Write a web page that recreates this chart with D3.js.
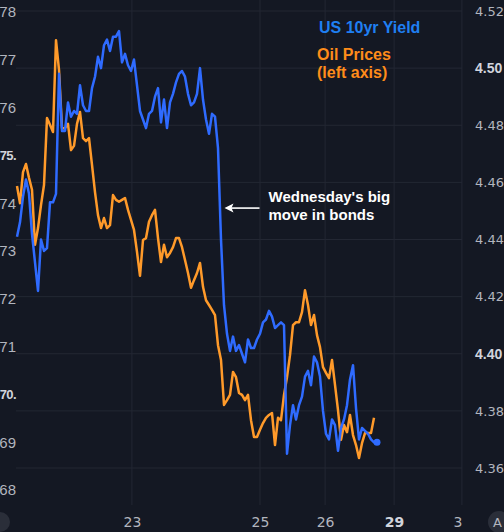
<!DOCTYPE html>
<html>
<head>
<meta charset="utf-8">
<script src="https://cdn.jsdelivr.net/npm/d3@7"></script>
<style>
  html, body { margin: 0; padding: 0; background: #141823; overflow: hidden; }
  svg { display: block; }
</style>
</head>
<body>
<svg id="chart"></svg>
<script>
const svgWidth = 504;
const svgHeight = 532;

// one value per bar, same bar clock for both series
const yieldValues = [
  4.441, 4.446, 4.455, 4.461, 4.456, 4.442, 4.432, 4.422, 4.440, 4.436,
  4.437, 4.453, 4.453, 4.456, 4.498, 4.478, 4.478, 4.488, 4.483, 4.485,
  4.484, 4.494, 4.487, 4.485, 4.485, 4.493, 4.497, 4.504, 4.500, 4.508,
  4.510, 4.506, 4.511, 4.511, 4.513, 4.502, 4.505, 4.501, 4.499, 4.503,
  4.494, 4.485, 4.482, 4.479, 4.484, 4.485, 4.490, 4.493, 4.481, 4.489,
  4.479, 4.488, 4.491, 4.495, 4.498, 4.499, 4.497, 4.491, 4.487, 4.488,
  4.491, 4.500, 4.489, 4.482, 4.477, 4.484, 4.483, 4.472, 4.440, 4.417,
  4.407, 4.401, 4.406, 4.401, 4.403, 4.400, 4.397, 4.405, 4.402, 4.402,
  4.405, 4.407, 4.411, 4.412, 4.415, 4.413, 4.409, 4.410, 4.411, 4.410,
  4.365, 4.375, 4.382, 4.377, 4.382, 4.385, 4.392, 4.394, 4.389, 4.399,
  4.397, 4.392, 4.380, 4.372, 4.370, 4.377, 4.375, 4.366, 4.374, 4.377,
  4.382, 4.391, 4.396, 4.381, 4.370, 4.374, 4.373, 4.372, 4.370, 4.369,
  4.369
];

const oilValues = [
  74.36, 74.00, 74.65, 74.82, 74.53, 74.28, 73.13, 73.48, 73.96, 74.38,
  75.78, 75.64, 75.49, 77.41, 76.79, 75.57, 75.57, 75.66, 75.11, 75.20,
  75.66, 75.91, 75.36, 75.30, 75.36, 74.80, 74.23, 73.75, 73.48, 73.69,
  73.48, 73.54, 74.17, 74.07, 74.03, 74.07, 74.11, 73.86, 73.65, 73.44,
  72.98, 72.48, 73.23, 73.27, 73.61, 73.75, 73.86, 73.27, 72.77, 73.13,
  72.87, 72.96, 73.08, 73.27, 73.27, 73.08, 72.81, 72.54, 72.23, 72.39,
  72.54, 72.75, 72.25, 71.97, 71.87, 71.77, 71.66, 71.03, 70.72, 69.78,
  69.88, 69.99, 70.47, 70.36, 70.03, 69.99, 69.88, 69.99, 69.46, 69.11,
  69.11, 69.26, 69.40, 69.51, 69.57, 69.61, 68.94, 69.51, 69.46, 69.99,
  70.36, 70.82, 71.45, 71.51, 71.51, 71.72, 72.18, 71.87, 71.45, 71.66,
  71.24, 70.99, 70.57, 70.45, 70.34, 70.72, 70.20, 69.67, 69.05, 69.36,
  69.21, 69.57, 69.15, 68.94, 68.67, 68.98, 69.19, 69.19, 69.19, 69.51
];

// day separators, in bars
const dayLabels = ["23", "25", "26", "29", "30"];
const dayBars = [38.3, 81, 102.7, 125.7, 148.3];
const boldDays = ["29"];

const yieldTicks = [4.36, 4.38, 4.40, 4.42, 4.44, 4.46, 4.48, 4.50, 4.52];
const boldYieldTicks = [4.40, 4.50];
const oilTicks = [68, 69, 70, 71, 72, 73, 74, 75, 76, 77, 78];
const oilTickLabels = ["68", "69", "70.", "71", "72", "73", "74", "75.", "76", "77", "78"];
const boldOilTicks = [70, 75];

const plotLeft = 16;
const plotRight = 462;
const plotBottom = 505;

const blue = "#2f6bff";
const orange = "#ff9a2a";
const labelColor = "#b2b5be";
const gridColor = "#232733";
const tickFont = "'DejaVu Sans', sans-serif";
const boldFont = "'Liberation Sans', Arial, sans-serif";

const svg = d3.select("#chart")
  .attr("width", svgWidth)
  .attr("height", svgHeight);

const xScale = d3.scaleLinear()
  .domain([0, 120])
  .range([17, 377]);

const yYield = d3.scaleLinear()
  .domain([4.36, 4.52])
  .range([468, 11]);

const yOil = d3.scaleLinear()
  .domain([68, 78])
  .range([490, 12]);

svg.append("defs").append("clipPath")
  .attr("id", "plot-clip")
  .append("rect")
  .attr("x", 0).attr("y", 0)
  .attr("width", plotRight + 1).attr("height", svgHeight);

// grid
svg.append("g")
  .selectAll("line")
  .data(yieldTicks)
  .enter()
  .append("line")
  .attr("x1", plotLeft)
  .attr("x2", plotRight)
  .attr("y1", d => yYield(d))
  .attr("y2", d => yYield(d))
  .attr("stroke", gridColor)
  .attr("stroke-width", 1);

svg.append("g")
  .selectAll("line")
  .data(dayBars)
  .enter()
  .append("line")
  .attr("x1", d => xScale(d))
  .attr("x2", d => xScale(d))
  .attr("y1", 0)
  .attr("y2", plotBottom)
  .attr("stroke", gridColor)
  .attr("stroke-width", 1);

// axes
const rightAxis = d3.axisRight(yYield)
  .tickValues(yieldTicks)
  .tickSize(0)
  .tickPadding(13)
  .tickFormat(d3.format(".2f"));

const gRight = svg.append("g")
  .attr("transform", `translate(${plotRight}, 0)`)
  .call(rightAxis);

const leftAxis = d3.axisLeft(yOil)
  .tickValues(oilTicks)
  .tickSize(0)
  .tickPadding(0)
  .tickFormat((d, i) => oilTickLabels[i]);

const gLeft = svg.append("g")
  .attr("transform", `translate(${plotLeft}, 0)`)
  .call(leftAxis);

const bottomAxis = d3.axisBottom(xScale)
  .tickValues(dayBars)
  .tickSize(0)
  .tickPadding(12)
  .tickFormat((d, i) => dayLabels[i]);

const gBottom = svg.append("g")
  .attr("clip-path", "url(#plot-clip)")
  .append("g")
  .attr("transform", `translate(0, ${plotBottom})`)
  .call(bottomAxis);

[gRight, gLeft, gBottom].forEach(g => {
  g.select(".domain").remove();
  g.selectAll("text")
    .attr("fill", labelColor)
    .style("font-family", tickFont)
    .style("font-size", "14px");
});

gRight.selectAll("text")
  .style("font-size", "13px");

gRight.selectAll("text")
  .filter(d => boldYieldTicks.some(t => Math.abs(t - d) < 1e-9))
  .attr("fill", "#d1d4dc")
  .style("font-family", boldFont)
  .style("font-size", "14px")
  .style("font-weight", "bold");

gLeft.selectAll("text")
  .style("font-family", "'Liberation Sans', Arial, sans-serif")
  .style("font-size", "15px");

gLeft.selectAll("text")
  .filter(d => boldOilTicks.includes(d))
  .attr("fill", "#d1d4dc")
  .attr("x", 0)
  .style("font-family", boldFont)
  .style("font-size", "13px")
  .style("letter-spacing", "-0.6px")
  .style("font-weight", "bold");

gBottom.selectAll("text")
  .filter((d, i) => boldDays.includes(dayLabels[dayBars.indexOf(d)]))
  .attr("fill", "#d1d4dc")
  .style("font-weight", "bold");

// series
const oilLine = d3.line()
  .x((d, i) => xScale(i))
  .y(d => yOil(d));

const yieldLine = d3.line()
  .x((d, i) => xScale(i))
  .y(d => yYield(d));

svg.append("path")
  .datum(oilValues)
  .attr("d", oilLine)
  .attr("fill", "none")
  .attr("stroke", orange)
  .attr("stroke-width", 2.5)
  .attr("stroke-linejoin", "round");

svg.append("path")
  .datum(yieldValues)
  .attr("d", yieldLine)
  .attr("fill", "none")
  .attr("stroke", blue)
  .attr("stroke-width", 2.5)
  .attr("stroke-linejoin", "round");

const lastBar = yieldValues.length - 1;
svg.append("circle")
  .attr("cx", xScale(lastBar))
  .attr("cy", yYield(yieldValues[lastBar]))
  .attr("r", 3.5)
  .attr("fill", blue);

// legend
svg.append("text")
  .attr("x", 319).attr("y", 33)
  .attr("fill", "#1f7ff2")
  .style("font-family", boldFont)
  .style("font-weight", "bold")
  .style("font-size", "16px")
  .text("US 10yr Yield");

const oilLegend = svg.append("text")
  .attr("fill", "#ff8c1a")
  .style("font-family", boldFont)
  .style("font-weight", "bold")
  .style("font-size", "16px");
oilLegend.append("tspan").attr("x", 317).attr("y", 60).text("Oil Prices");
oilLegend.append("tspan").attr("x", 317).attr("y", 78).text("(left axis)");

// annotation on the bond drop
const tipX = xScale(68.5) + 2;
const tipY = yYield(4.451);

svg.append("line")
  .attr("x1", tipX + 6).attr("x2", tipX + 35)
  .attr("y1", tipY).attr("y2", tipY)
  .attr("stroke", "#ffffff")
  .attr("stroke-width", 1.6);

svg.append("path")
  .attr("d", `M${tipX},${tipY} L${tipX + 9},${tipY - 4.5} L${tipX + 7},${tipY} L${tipX + 9},${tipY + 4.5} Z`)
  .attr("fill", "#ffffff");

const note = svg.append("text")
  .attr("fill", "#ffffff")
  .style("font-family", boldFont)
  .style("font-weight", "bold")
  .style("font-size", "15px");
note.append("tspan").attr("x", tipX + 44).attr("y", tipY - 6).text("Wednesday's big");
note.append("tspan").attr("x", tipX + 44).attr("y", tipY + 12).text("move in bonds");

// corner buttons
svg.append("circle")
  .attr("cx", 0).attr("cy", 522).attr("r", 10)
  .attr("fill", "#2a2e39");

svg.append("circle")
  .attr("cx", 499).attr("cy", 522).attr("r", 11)
  .attr("fill", "#2a2e39");
svg.append("text")
  .attr("x", 493).attr("y", 527)
  .attr("fill", labelColor)
  .style("font-family", tickFont)
  .style("font-size", "13px")
  .text("A");
</script>
</body>
</html>
